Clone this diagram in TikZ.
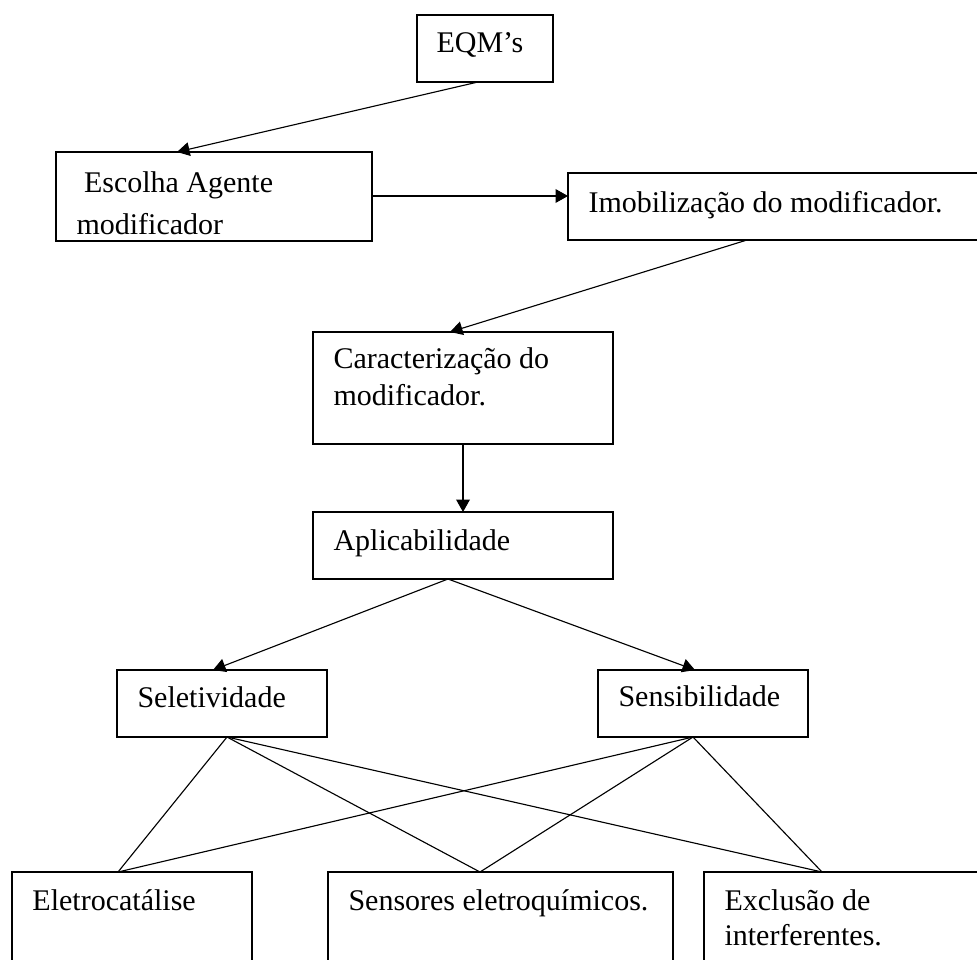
\documentclass[tikz,border=0pt]{standalone}
\usepackage{fontspec}
\setmainfont{Liberation Serif}
\usetikzlibrary{arrows.meta,calc}
\begin{document}
\begin{tikzpicture}[x=0.4pt,y=-0.4pt,
  box/.style={draw, line width=0.6pt, inner sep=0pt, outer sep=0pt, anchor=north west},
  lbl/.style={inner sep=0pt, anchor=base west, font=\fontsize{12pt}{14.8pt}\selectfont},
  arr/.style={line width=0.45pt, -{Triangle[length=5pt,width=5.5pt]}},
  link/.style={line width=0.45pt}]
\useasboundingbox (0,0) rectangle (977,959);

% boxes
\node[box, minimum width=136*0.4pt, minimum height=67*0.4pt] (eqm) at (417,15) {};
\node[box, minimum width=316*0.4pt, minimum height=89*0.4pt] (esc) at (56,152) {};
\node[box, minimum width=420*0.4pt, minimum height=67*0.4pt] (imob) at (568,173) {};
\node[box, minimum width=300*0.4pt, minimum height=112*0.4pt] (car) at (313,332) {};
\node[box, minimum width=300*0.4pt, minimum height=67*0.4pt] (apl) at (313,512) {};
\node[box, minimum width=210*0.4pt, minimum height=67*0.4pt] (sel) at (117,670) {};
\node[box, minimum width=210*0.4pt, minimum height=67*0.4pt] (sen) at (598,670) {};
\node[box, minimum width=240*0.4pt, minimum height=130*0.4pt] (ele) at (12,872) {};
\node[box, minimum width=345*0.4pt, minimum height=130*0.4pt] (sns) at (328,872) {};
\node[box, minimum width=290*0.4pt, minimum height=130*0.4pt] (exc) at (704,872) {};

% texts
\node[lbl] (eqmt) at ([shift={(19,38)}]eqm.north west) {EQM’s};
\node[lbl, font=\fontsize{12pt}{16.8pt}\selectfont] (esct) at ([shift={(20,40)}]esc.north west)
  {\parbox[t]{200pt}{\hspace*{0.25em}Escolha Agente\\modificador}};
\node[lbl] (imobt) at ([shift={(20,39)}]imob.north west) {Imobilização do modificador.};
\node[lbl] (cart) at ([shift={(20,36)}]car.north west)
  {\parbox[t]{200pt}{Caracterização do\\modificador.}};
\node[lbl] (aplt) at ([shift={(20,38)}]apl.north west) {Aplicabilidade};
\node[lbl] (selt) at ([shift={(20,37)}]sel.north west) {Seletividade};
\node[lbl] (sent) at ([shift={(20,36)}]sen.north west) {Sensibilidade};
\node[lbl] (elet) at ([shift={(20,38)}]ele.north west) {Eletrocatálise};
\node[lbl] (snst) at ([shift={(20,38)}]sns.north west) {Sensores eletroquímicos.};
\node[lbl, font=\fontsize{12pt}{14pt}\selectfont] (exct) at ([shift={(20,38)}]exc.north west)
  {\parbox[t]{200pt}{Exclusão de\\interferentes.}};

% arrows
\draw[arr] ([shift={(61,0)}]eqm.south west) -- ([shift={(121,0)}]esc.north west);
\draw[arr] ([shift={(0,44)}]esc.north east) -- ([shift={(0,44)}]esc.north east -| imob.west);
\draw[arr] ([shift={(179,0)}]imob.south west) -- ([shift={(137,0)}]car.north west);
\draw[arr] ([shift={(150,0)}]car.south west) -- ([shift={(150,0)}]apl.north west);
\draw[arr] ([shift={(135,0)}]apl.south west) -- ([shift={(96,0)}]sel.north west);
\draw[arr] ([shift={(135,0)}]apl.south west) -- ([shift={(97,0)}]sen.north west);

% plain links
\draw[link] ([shift={(110,0)}]sel.south west) -- ([shift={(106,0)}]ele.north west);
\draw[link] ([shift={(110,0)}]sel.south west) -- ([shift={(152,0)}]sns.north west);
\draw[link] ([shift={(110,0)}]sel.south west) -- ([shift={(118,0)}]exc.north west);
\draw[link] ([shift={(95,0)}]sen.south west) -- ([shift={(106,0)}]ele.north west);
\draw[link] ([shift={(95,0)}]sen.south west) -- ([shift={(152,0)}]sns.north west);
\draw[link] ([shift={(95,0)}]sen.south west) -- ([shift={(118,0)}]exc.north west);
\end{tikzpicture}
\end{document}
